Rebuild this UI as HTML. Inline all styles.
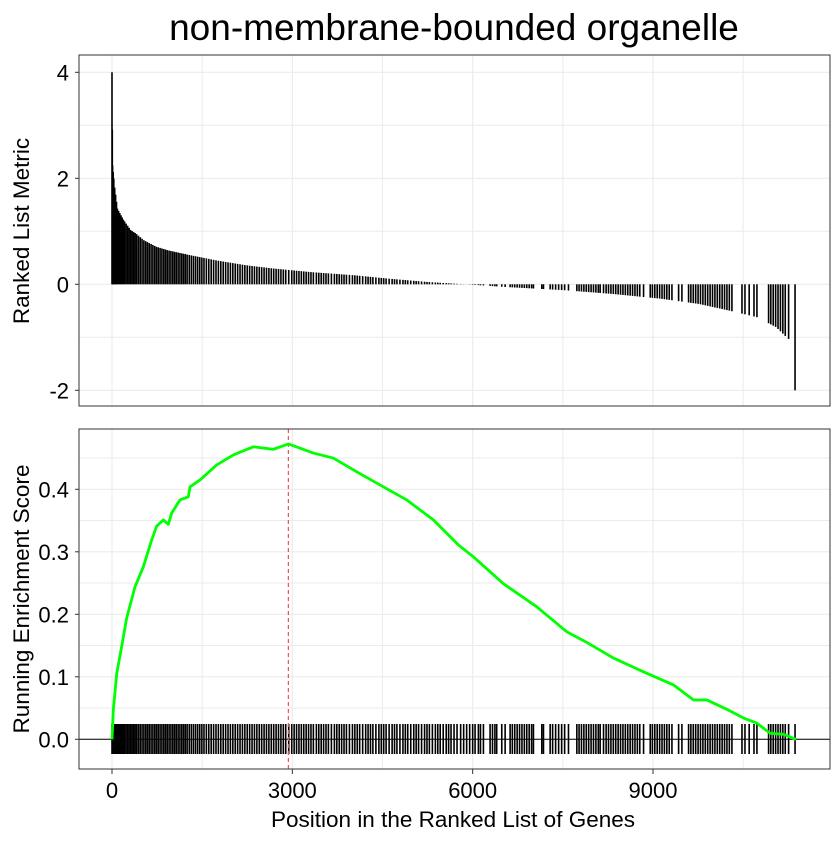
<!DOCTYPE html>
<html><head><meta charset="utf-8"><style>
body{margin:0;background:#fff}
svg text{font-family:"Liberation Sans",Arial,sans-serif}
</style></head><body>
<svg id="chart" width="840" height="840" viewBox="0 0 840 840" xmlns="http://www.w3.org/2000/svg">
<rect width="840" height="840" fill="#fff"/>
<text x="454" y="40" font-size="37" text-anchor="middle" fill="#000">non-membrane-bounded organelle</text>
<g id="topPanel"></g>
<g id="botPanel"></g>
<text transform="translate(29,231) rotate(-90)" font-size="22.5" text-anchor="middle">Ranked List Metric</text>
<text transform="translate(29,599) rotate(-90)" font-size="22.5" text-anchor="middle">Running Enrichment Score</text>
<text x="453" y="827" font-size="22.5" text-anchor="middle">Position in the Ranked List of Genes</text>
</svg>
<script>
const xTicks=[0,3000,6000,9000];
const topTicks=[4,2,0,-2];
const botTicks=[0.0,0.1,0.2,0.3,0.4];
const metricPos=[0,8,40,89,194,314,395,532,734,935,1298,1741,2225,2668,3313,4038,4602,5247,5690,5892,6537,7504,8310,9116,9761,10244,10728,11050,11251,11350,11363];
const metricVal=[4.0,2.27,1.87,1.43,1.21,1.02,0.96,0.83,0.71,0.64,0.55,0.45,0.36,0.30,0.23,0.17,0.107,0.044,0.013,0,-0.05,-0.11,-0.18,-0.27,-0.37,-0.49,-0.62,-0.81,-1.03,-1.05,-2.0];
const esPos=[0,22,78,160,244,383,521,660,743,854,937,993,1131,1270,1298,1464,1742,2018,2351,2684,2934,3350,3682,4071,4514,4903,5346,5762,6012,6511,7066,7566,7899,8342,8841,9340,9673,9895,10228,10505,10727,10948,11170,11380];
const esVal=[0,0.047,0.105,0.148,0.194,0.244,0.276,0.319,0.341,0.351,0.344,0.362,0.383,0.388,0.404,0.415,0.439,0.455,0.468,0.464,0.4725,0.458,0.450,0.428,0.404,0.383,0.351,0.311,0.292,0.249,0.212,0.172,0.155,0.130,0.108,0.087,0.063,0.063,0.048,0.034,0.026,0.0096,0.008,0];
const hits=[0,5,10,20,30,45,60,75,90,110,130,150,170,190,210,235,260,285,310,335,360,385,410,440,470,500,530,560,590,620,650,680,710,740,770,800,830,860,890,920,950,980,
1010,1040,1070,1100,1130,1160,1190,1220,1250,1285,1320,1355,1390,1425,1460,1495,1530,1570,1610,1650,1690,1730,1770,1810,1850,1890,1930,1970,2010,2050,2090,2130,2170,2210,2250,2290,2330,2370,2410,2450,2490,2530,2570,2610,2650,2690,2730,2770,2810,2850,2890,2940,2990,
3030,3070,3110,3150,3190,3230,3270,3310,3350,3400,3440,3480,3520,3560,3600,3650,3700,3740,3780,3820,3860,3900,3950,4000,4040,4080,4120,4170,4220,4260,4300,4340,4390,4440,4480,4520,4560,4610,4660,4700,4740,4790,4840,4880,4920,4970,5020,5060,5100,5150,5200,5240,5280,5330,5380,5420,5460,5510,5560,5600,5640,5690,5740,
5800,5850,5900,5950,6000,6040,6095,6130,6179,6290,6330,6370,6400,6484,6540,6623,6660,6700,6740,6780,6820,6860,6900,6940,6980,7011,7150,7178,7289,7330,7380,7430,7480,7530,7594,7733,7770,7810,7850,7890,7930,7970,8010,8050,8090,8121,8177,8220,8260,8300,8340,8380,8420,8460,8500,8540,8580,8620,8660,8700,8740,8780,8843,8954,8990,9030,9070,9110,9150,9190,9230,9270,9315,9426,9481,9592,9630,9670,9710,9750,9790,9830,9870,9910,9950,9990,10030,10070,10110,10150,10190,10230,10270,10313,10480,10530,10600,10680,10729,10923,10960,11000,11040,11080,11120,11160,11200,11256,11363];
const peakPos=2934;

const NS="http://www.w3.org/2000/svg";
const L=79,R=830,TT=55,TB=406,BT=429,BB=769;
const xs=v=>112+v*(653-112)/9000;
const ys1=v=>284.3-v*53;
const ys2=v=>739.3-v*625;
function mk(p,tag,a){const e=document.createElementNS(NS,tag);for(const k in a)e.setAttribute(k,a[k]);p.appendChild(e);return e;}
function interp(P,V,x){for(let i=1;i<P.length;i++){if(x<=P[i]){const t=(x-P[i-1])/(P[i]-P[i-1]||1);return V[i-1]+t*(V[i]-V[i-1]);}}return V[V.length-1];}
const topG=document.getElementById('topPanel'),botG=document.getElementById('botPanel');
function grid(g,y0,y1,yv,ysf,minorY){
  [1500,4500,7500,10500].forEach(v=>{mk(g,'line',{x1:xs(v),x2:xs(v),y1:y0,y2:y1,stroke:'#ebebeb','stroke-width':1});});
  xTicks.forEach(v=>{const l=mk(g,'line',{x1:xs(v),x2:xs(v),y1:y0,y2:y1,stroke:'#ebebeb','stroke-width':1.1});
    
    });
  minorY.forEach(v=>{mk(g,'line',{x1:L,x2:R,y1:ysf(v),y2:ysf(v),stroke:'#ebebeb','stroke-width':1});});
  yv.forEach(v=>{const l=mk(g,'line',{x1:L,x2:R,y1:ysf(v),y2:ysf(v),stroke:'#ebebeb','stroke-width':1.1});
    
    });
}
grid(topG,TT,TB,topTicks,ys1,[3,1,-1]);
grid(botG,BT,BB,botTicks,ys2,[0.05,0.15,0.25,0.35,0.45]);
hits.forEach(h=>{const v=interp(metricPos,metricVal,h);
  const b=mk(topG,'line',{x1:xs(h),x2:xs(h),y1:ys1(0),y2:ys1(v),stroke:'#000','stroke-width':1.6});
  
  });
mk(topG,'rect',{x:L,y:TT,width:R-L,height:TB-TT,fill:'none',stroke:'#333','stroke-width':1});
topTicks.forEach(v=>{mk(topG,'line',{x1:L-4,x2:L,y1:ys1(v),y2:ys1(v),stroke:'#333'});
  const t=mk(topG,'text',{x:L-10,y:ys1(v)+8,'font-size':22,'text-anchor':'end'});t.textContent=v;
  
  });
hits.forEach(h=>{const b=mk(botG,'line',{x1:xs(h),x2:xs(h),y1:724,y2:754,stroke:'#000','stroke-width':1.6});
  
  });
const zl=mk(botG,'line',{x1:L,x2:R,y1:ys2(0),y2:ys2(0),stroke:'#000','stroke-width':1});


const pk=mk(botG,'line',{x1:xs(peakPos),x2:xs(peakPos),y1:BT,y2:BB,stroke:'#f05050','stroke-width':1.2,'stroke-dasharray':'4,3'});


const es=mk(botG,'polyline',{points:esPos.map((p,i)=>xs(p)+','+ys2(esVal[i])).join(' '),fill:'none',stroke:'#00ff00','stroke-width':2.8,'stroke-linejoin':'round'});


mk(botG,'rect',{x:L,y:BT,width:R-L,height:BB-BT,fill:'none',stroke:'#333','stroke-width':1});
botTicks.forEach(v=>{mk(botG,'line',{x1:L-4,x2:L,y1:ys2(v),y2:ys2(v),stroke:'#333'});
  const t=mk(botG,'text',{x:L-10,y:ys2(v)+8,'font-size':22,'text-anchor':'end'});t.textContent=v.toFixed(1);
  
  });
xTicks.forEach(v=>{mk(botG,'line',{x1:xs(v),x2:xs(v),y1:BB,y2:BB+5,stroke:'#333'});
  const t=mk(botG,'text',{x:xs(v),y:BB+29,'font-size':22,'text-anchor':'middle'});t.textContent=v;
  
  });
</script>
</body></html>
